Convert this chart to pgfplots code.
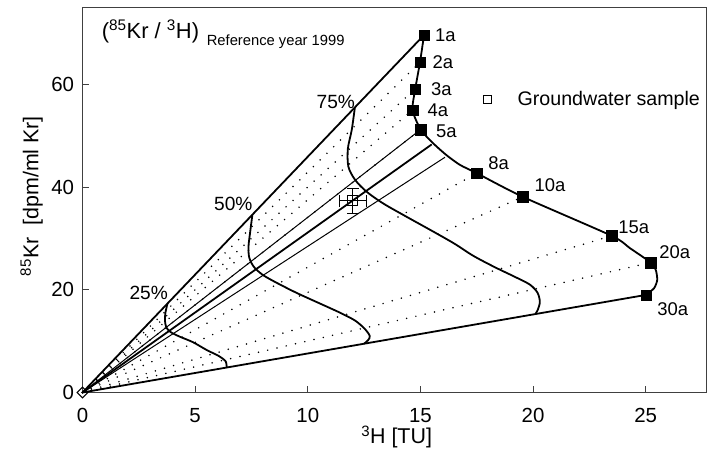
\documentclass[border=0pt]{standalone}
\usepackage{fontspec}
\setmainfont{Liberation Sans}
\usepackage{pgfplots}
\pgfplotsset{compat=1.18}
\newcommand\fa{\fontsize{18.5}{20}\selectfont}
\begin{document}
\begin{tikzpicture}
\begin{axis}[
  name=ax,
  scale only axis,
  width=624.5bp, height=385.2bp,
  xmin=0, xmax=27.72, ymin=0, ymax=75,
  clip=false,
  axis line style={black!75, line width=1.3bp},
  xtick={0,5,10,15,20,25}, ytick={0,20,40,60},
  tick align=inside,
  xtick pos=bottom, ytick pos=left,
  major tick length=6bp,
  tick style={black!75, line width=1bp},
  /pgf/number format/assume math mode=true,
  tick label style={font=\fontsize{20.5}{24}\selectfont},
  xticklabel style={yshift=-12bp},
  yticklabel style={xshift=-5bp},
  xlabel={\textsuperscript{3}H [TU]},
  ylabel={\textsuperscript{85}Kr\ \ [dpm/ml Kr]},
  label style={font=\fontsize{21.5}{24}\selectfont},
  xlabel style={at={(axis description cs:0.503,-0.1155)}, anchor=center},
  ylabel style={at={(axis description cs:-0.0813,0.51)}, anchor=center},
  dotline/.style={black, line width=1.7bp, line cap=round, dash pattern=on 0bp off 9.5bp},
  legend style={at={(axis cs:17.78,57.1)}, anchor=west, draw=none, fill=none, inner sep=0pt,
     font=\fontsize{19.7}{22}\selectfont},
  legend cell align=left,
]
\addlegendimage{legend image code/.code={\draw[black, line width=1.1bp] plot[mark=square, mark size=4bp] coordinates {(0bp,0bp)}; \path (-4bp,0bp) (28bp,0bp);}}
\legend{Groundwater sample}

% dotted isochron lines
\addplot[dotline] coordinates {(0,0) (14.98,64.3)};
\addplot[dotline] coordinates {(0,0) (14.77,59.1)};
\addplot[dotline] coordinates {(0,0) (14.65,55.0)};
\addplot[dotline] coordinates {(0,0) (15.01,51.2)};
\addplot[dotline] coordinates {(0,0) (17.5,42.7)};
\addplot[dotline] coordinates {(0,0) (19.54,38.1)};
\addplot[dotline] coordinates {(0,0) (23.49,30.5)};
\addplot[dotline] coordinates {(0,0) (25.22,25.3)};

% boundaries
\addplot[black, line width=1.8bp] coordinates {(0,0) (15.16,69.6)};
\addplot[black, line width=1.8bp] coordinates {(0,0) (25.01,19.0)};

% sample lines
\addplot[black, line width=1bp] coordinates {(0,0) (15.01,51.2)};
\addplot[black, line width=1.8bp] coordinates {(0,0) (15.5,48.3)};
\addplot[black, line width=1bp] coordinates {(0,0) (16.09,45.8)};

% mixing curves
\addplot[black, line width=1.8bp, smooth, tension=0.5] coordinates {
(3.77,17.3) (3.68,15.5) (3.66,14.0) (3.72,12.7) (3.9,11.8) (4.3,10.9) (4.9,9.8) (5.5,8.3) (6.05,7.1) (6.35,6.1) (6.40,4.9)};
\addplot[black, line width=1.8bp, smooth, tension=0.5] coordinates {
(7.54,34.6) (7.45,31.5) (7.37,28.5) (7.40,26.3) (7.6,24.5) (8.0,22.9) (8.6,21.4) (9.5,19.4) (10.5,17.4) (11.4,15.6) (12.1,14.0) (12.55,12.3) (12.75,11.0) (12.68,10.2) (12.5,9.5)};
\addplot[black, line width=1.8bp, smooth, tension=0.5] coordinates {
(12.09,55.5) (11.95,51.1) (11.78,47.5) (11.8,44.0) (12.1,41.4) (12.61,39.1) (13.35,36.8) (14.39,34.2) (15.5,31.5) (16.5,29.0) (17.35,26.6) (18.3,24.4) (19.2,22.5) (19.86,21.0) (20.2,19.4) (20.3,17.6) (20.2,16.0) (20.1,15.3)};

% age curve
\addplot[black, line width=1.8bp, smooth, tension=0.4] coordinates {
(15.16,69.6) (14.98,64.3) (14.77,59.1) (14.65,55.0) (15.01,51.2) (15.57,48.5) (16.16,46.2) (16.76,44.3) (17.5,42.7) (19.54,38.1) (23.49,30.5) (24.3,28.1) (25.22,25.3) (25.45,23.8) (25.51,21.9) (25.37,20.3) (25.01,19.0)};
\addplot[only marks, mark=square*, mark size=5.2bp, black] coordinates {
(15.16,69.6) (14.98,64.3) (14.77,59.1) (14.65,55.0) (15.01,51.2) (17.5,42.7) (19.54,38.1) (23.49,30.5) (25.22,25.3) (25.01,19.0)};

% groundwater sample
\addplot[only marks, mark=square, mark size=5bp, black, mark options={line width=1.1bp, fill=white},
  error bars/.cd, x dir=both, x explicit, y dir=both, y explicit,
  error bar style={line width=1.1bp, black},
  error mark options={rotate=90, mark size=6bp, line width=1.1bp, black}]
  coordinates {(12,37.3) +- (0.6,2.4)};

% origin
\addplot[only marks, mark=square, mark size=3.8bp, black, mark options={rotate=45, fill=white, line width=1bp}] coordinates {(0,0)};

% labels
\node[anchor=west, font=\fa] at (axis cs:15.50,69.6) {1a};
\node[anchor=west, font=\fa] at (axis cs:15.38,64.3) {2a};
\node[anchor=west, font=\fa] at (axis cs:15.32,59.1) {3a};
\node[anchor=west, font=\fa] at (axis cs:15.16,55.0) {4a};
\node[anchor=west, font=\fa] at (axis cs:15.54,50.8) {5a};
\node[anchor=west, font=\fa] at (axis cs:17.86,44.6) {8a};
\node[anchor=west, font=\fa] at (axis cs:19.91,40.4) {10a};
\node[anchor=west, font=\fa] at (axis cs:23.63,32.2) {15a};
\node[anchor=west, font=\fa] at (axis cs:25.45,27.4) {20a};
\node[anchor=west, font=\fa] at (axis cs:25.36,16.2) {30a};
\node[anchor=west, font=\fontsize{19.2}{21}\selectfont] at (axis cs:1.93,19.3) {25\%};
\node[anchor=west, font=\fontsize{19.2}{21}\selectfont] at (axis cs:5.69,36.8) {50\%};
\node[anchor=west, font=\fontsize{19.2}{21}\selectfont] at (axis cs:10.24,56.6) {75\%};
\node[anchor=base west, inner sep=0pt, font=\fontsize{22}{24}\selectfont] at (axis cs:0.85,68.95) {(\textsuperscript{85}Kr / \textsuperscript{3}H)};
\node[anchor=base west, inner sep=0pt, font=\fontsize{14.8}{16}\selectfont] at (axis cs:5.51,67.65) {Reference year 1999};
\end{axis}
\pgfresetboundingbox
\path[use as bounding box] ([xshift=-82.5bp,yshift=-62.5bp]ax.south west) rectangle ([yshift=7.3bp]ax.north east);
\end{tikzpicture}
\end{document}
